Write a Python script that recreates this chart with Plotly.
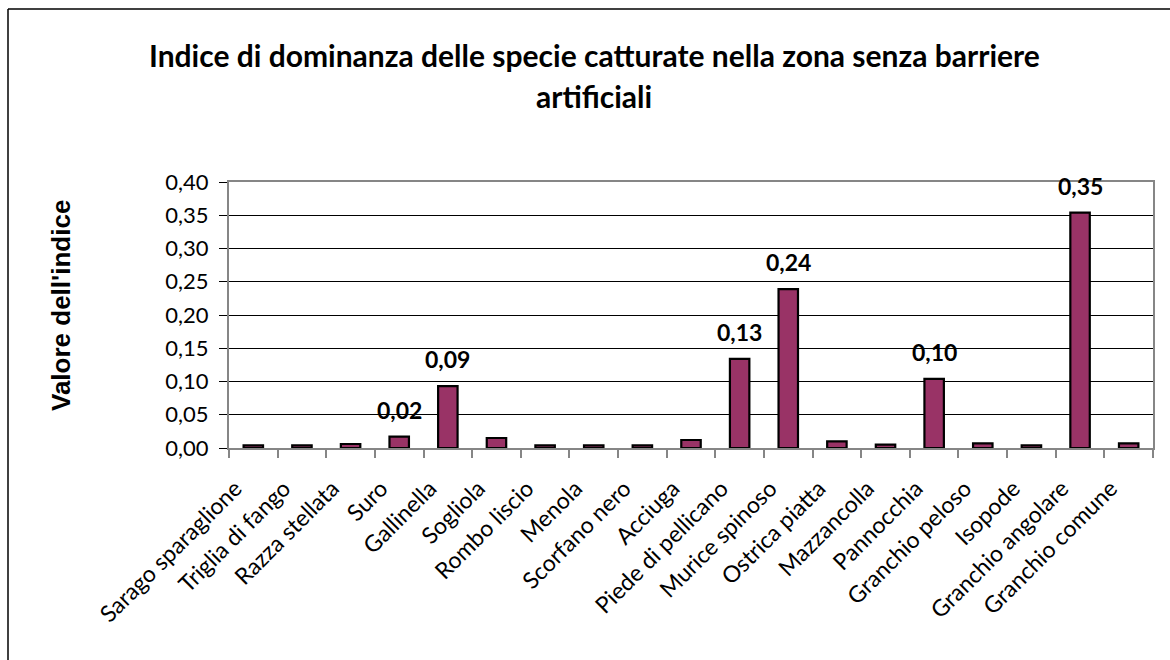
import plotly.graph_objects as go

# Species caught in the zone without artificial barriers
specie = [
    "Sarago sparaglione", "Triglia di fango", "Razza stellata", "Suro",
    "Gallinella", "Sogliola", "Rombo liscio", "Menola", "Scorfano nero",
    "Acciuga", "Piede di pellicano", "Murice spinoso", "Ostrica piatta",
    "Mazzancolla", "Pannocchia", "Granchio peloso", "Isopode",
    "Granchio angolare", "Granchio comune",
]

# Dominance index per species
indice = [
    0.004, 0.004, 0.006, 0.017,
    0.093, 0.015, 0.004, 0.004, 0.004,
    0.012, 0.134, 0.239, 0.010,
    0.005, 0.104, 0.007, 0.004,
    0.354, 0.007,
]

# Species whose value is written above the bar
etichettate = ["Suro", "Gallinella", "Piede di pellicano", "Murice spinoso",
               "Pannocchia", "Granchio angolare"]

y_ticks = [0.00, 0.05, 0.10, 0.15, 0.20, 0.25, 0.30, 0.35, 0.40]
y_ticktext = [f"{v:.2f}".replace(".", ",") for v in y_ticks]

W, H = 1170, 660
L, R, T, B = 229, 17, 182, 212
pw, ph = W - L - R, H - T - B

fig = go.Figure()
fig.add_trace(go.Bar(
    x=specie,
    y=indice,
    width=0.4,
    marker=dict(color="#993366", line=dict(color="#000000", width=2.2)),
    hoverinfo="x+y",
))

annotations = []
for s, v in zip(specie, indice):
    if s in etichettate:
        annotations.append(dict(
            x=s, y=v, xref="x", yref="y",
            text=f"<b>{v:.2f}</b>".replace(".", ","),
            showarrow=False, yanchor="middle", yshift=27,
            font=dict(family="Lato", size=23, color="#000000"),
        ))

# Title (two lines)
annotations.append(dict(
    xref="paper", yref="paper", x=(594 - L) / pw, y=1 + (T - 55) / ph,
    text="<b>Indice di dominanza delle specie catturate nella zona senza barriere</b>",
    showarrow=False, xanchor="center", yanchor="middle",
    font=dict(family="Lato", size=30, color="#000000"),
))
annotations.append(dict(
    xref="paper", yref="paper", x=(594 - L) / pw, y=1 + (T - 96) / ph,
    text="<b>artificiali</b>",
    showarrow=False, xanchor="center", yanchor="middle",
    font=dict(family="Lato", size=30, color="#000000"),
))

# Y axis title
annotations.append(dict(
    xref="paper", yref="paper", x=(61 - L) / pw, y=(448 - 306) / ph,
    text="<b>Valore dell'indice</b>", textangle=-90,
    showarrow=False, xanchor="center", yanchor="middle",
    font=dict(family="Liberation Sans", size=26, color="#000000"),
))

shapes = [
    # outer chart frame (left and top edges)
    dict(type="line", xref="paper", yref="paper",
         x0=(8 - L) / pw, x1=(8 - L) / pw, y0=(448 - 700) / ph, y1=(448 - 9) / ph,
         line=dict(color="#000000", width=1.5)),
    dict(type="line", xref="paper", yref="paper",
         x0=(8 - L) / pw, x1=(1200 - L) / pw, y0=(448 - 9) / ph, y1=(448 - 9) / ph,
         line=dict(color="#000000", width=1.5)),
]

fig.update_layout(
    width=W, height=H,
    margin=dict(l=L, r=R, t=T, b=B, pad=0),
    paper_bgcolor="#ffffff", plot_bgcolor="#ffffff",
    showlegend=False,
    annotations=annotations,
    shapes=shapes,
    font=dict(family="Lato", color="#000000"),
)
fig.update_xaxes(
    type="category", range=[-0.5, len(specie) - 0.5],
    tickangle=-45, tickfont=dict(family="Lato", size=23, color="#000000"),
    ticklabelstandoff=16, ticklabelshift=-18,
    showline=True, linecolor="#868686", linewidth=2, mirror=True,
    ticks="outside", ticklen=8, tickcolor="#868686", tickwidth=1.5,
    tickson="boundaries", showgrid=False, zeroline=False,
)
fig.update_yaxes(
    range=[0, 0.40], tickvals=y_ticks, ticktext=y_ticktext,
    tickfont=dict(family="Lato", size=22, color="#000000"),
    ticklabelstandoff=6,
    showline=True, linecolor="#868686", linewidth=2, mirror=True,
    ticks="outside", ticklen=8, tickcolor="#000000", tickwidth=1,
    showgrid=True, gridcolor="#000000", gridwidth=1, zeroline=False,
)

fig.write_html("out.html")
